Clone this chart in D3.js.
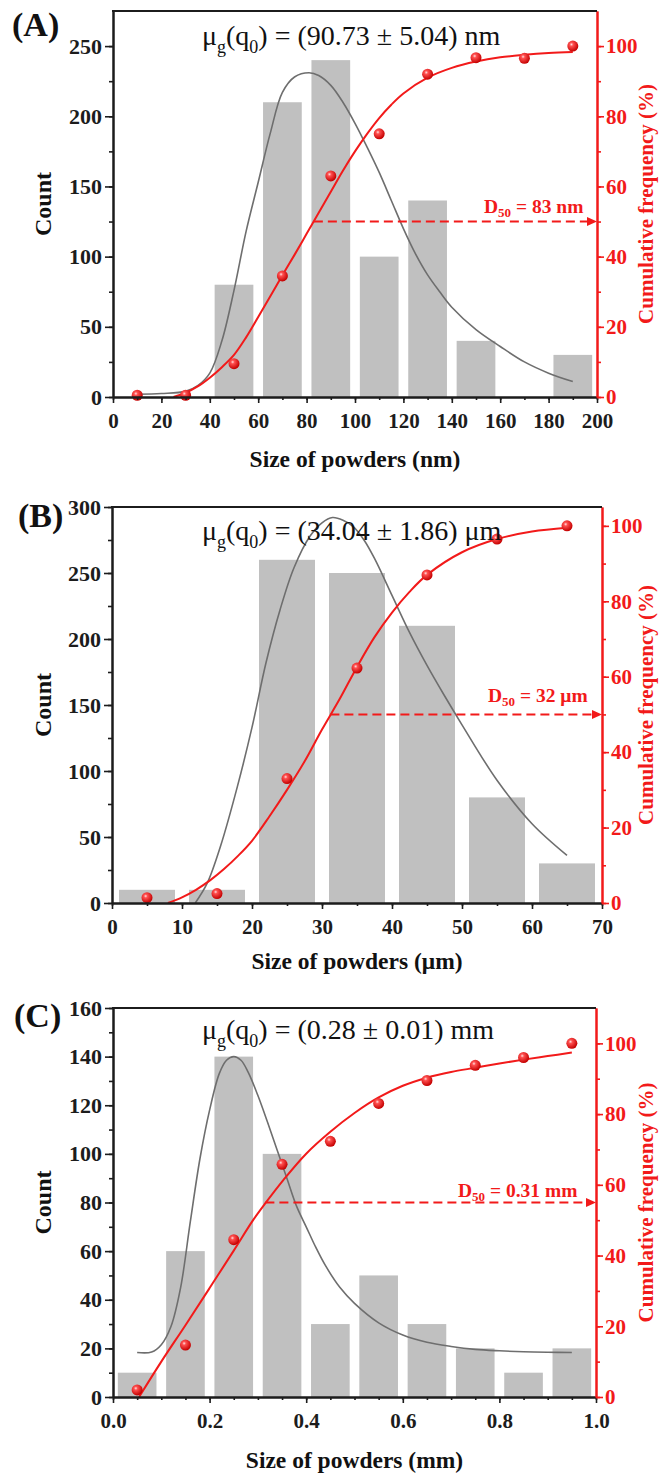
<!DOCTYPE html>
<html>
<head>
<meta charset="utf-8">
<script src="https://cdnjs.cloudflare.com/ajax/libs/d3/7.8.5/d3.min.js"></script>
<style>
body { margin: 0; background: #ffffff; }
text { font-family: "Liberation Serif", "Times New Roman", serif; }
</style>
</head>
<body>
<script>
// ---- panel (A): nanometre powder ----
var sizesA = [10, 30, 50, 70, 90, 110, 130, 150, 170, 190];
var countsA = [0, 0, 80, 210, 240, 100, 140, 40, 0, 30];
var cumA = [0.5, 0.5, 9.5, 34.5, 63, 75, 92, 96.7, 96.5, 100];
var fitXA = [10, 20, 30, 35, 40, 45, 50, 55, 60, 65, 70, 75, 81, 85, 90, 95, 100, 105, 110, 115, 120, 125, 130, 135, 140, 150, 160, 170, 180, 190];
var fitYA = [2, 2.5, 4, 8, 17, 40, 76, 118, 153, 188, 217, 228, 231, 229, 222, 210, 195, 178, 160, 140, 120, 102, 87, 75, 64, 48, 36, 25, 17, 11];
var cumFitXA = [25, 30, 35, 40, 45, 50, 55, 60, 65, 70, 75, 80, 85, 90, 95, 100, 105, 110, 115, 120, 130, 140, 150, 160, 170, 180, 190];
var cumFitYA = [0, 1.2, 3, 5.5, 8.5, 12, 17, 22.8, 28.7, 34.7, 40.5, 46.5, 52.5, 58.5, 64.5, 70, 75, 79.5, 83.3, 86.5, 91, 93.8, 95.6, 96.8, 97.5, 98, 98.3];
var xTicksA = [0, 20, 40, 60, 80, 100, 120, 140, 160, 180, 200];
var yTicksA = [0, 50, 100, 150, 200, 250];

// ---- panel (B): micrometre powder ----
var sizesB = [5, 15, 25, 35, 45, 55, 65];
var countsB = [10, 10, 260, 250, 210, 80, 30];
var cumB = [1.4, 2.5, 33, 62.3, 87, 96.5, 100];
var fitXB = [11.9, 13.6, 15.5, 17.9, 20, 22, 24, 26, 28.3, 30, 31.5, 33, 34.5, 36, 37.5, 40, 42.5, 45, 47.5, 50, 55, 60, 65];
var fitYB = [0, 15, 43, 88, 133, 182, 222, 254, 278, 288, 292, 290, 285, 275, 261, 233, 205, 180, 157, 135, 93, 60, 36];
var cumFitXB = [8, 10, 12, 14, 16, 18, 20, 22.5, 25, 27.5, 30, 32.5, 35, 37.5, 40, 42.5, 45, 50, 55, 60, 65];
var cumFitYB = [0, 1.5, 3.5, 6, 9, 12.5, 16.5, 23, 30, 37.5, 46, 54, 62.6, 70.5, 77, 82.5, 87, 93, 96.5, 98.5, 99.5];
var xTicksB = [0, 10, 20, 30, 40, 50, 60, 70];
var yTicksB = [0, 50, 100, 150, 200, 250, 300];

// ---- panel (C): millimetre powder ----
var sizesC = [0.05, 0.15, 0.25, 0.35, 0.45, 0.55, 0.65, 0.75, 0.85, 0.95];
var countsC = [10, 60, 140, 100, 30, 50, 30, 20, 10, 20];
var cumC = [2, 14.7, 44.5, 65.8, 72.3, 83, 89.5, 93.8, 96, 100];
var fitXC = [0.05, 0.08, 0.10, 0.12, 0.14, 0.16, 0.18, 0.20, 0.22, 0.235, 0.25, 0.265, 0.28, 0.30, 0.32, 0.34, 0.36, 0.38, 0.40, 0.42, 0.44, 0.47, 0.50, 0.55, 0.60, 0.65, 0.70, 0.75, 0.80, 0.85, 0.90, 0.95];
var fitYC = [18.3, 18.5, 21.5, 29, 45, 72, 98, 118, 133, 138.5, 140, 138.5, 133.5, 124, 113, 101.5, 90, 78.5, 70, 61.5, 54, 45, 38.5, 30.5, 25.5, 22.5, 20.8, 19.6, 19, 18.6, 18.4, 18.3];
var cumFitXC = [0.054, 0.10, 0.15, 0.20, 0.25, 0.29, 0.3155, 0.353, 0.40, 0.45, 0.50, 0.55, 0.60, 0.65, 0.70, 0.75, 0.80, 0.85, 0.90, 0.95];
var cumFitYC = [0, 10, 20.3, 30.8, 41.4, 50, 54.8, 61.4, 68.8, 75, 80.3, 84.7, 88, 90.3, 91.9, 93.1, 94.3, 95.4, 96.4, 97.4];
var xTicksC = [0, 0.2, 0.4, 0.6, 0.8, 1.0];
var yTicksC = [0, 20, 40, 60, 80, 100, 120, 140, 160];

var cumTicks = [0, 20, 40, 60, 80, 100];
var panelLabels = ["(A)", "(B)", "(C)"];
var meanTexts = ["(90.73 \u00b1 5.04) nm", "(34.04 \u00b1 1.86) \u03bcm", "(0.28 \u00b1 0.01) mm"];
var d50Texts = [" = 83 nm", " = 32 \u03bcm", " = 0.31 mm"];
var d50Size = [83, 31.2, 0.3155];
var d50Cum = [50, 50, 55];
var xTitles = ["Size of powders (nm)", "Size of powders (\u03bcm)", "Size of powders (mm)"];

var RED = "#f21a1a";
var AXIS = "#1c1c1c";

var panels = [
	{ sizes: sizesA, counts: countsA, cum: cumA, fitX: fitXA, fitY: fitYA, cumFitX: cumFitXA, cumFitY: cumFitYA,
	  xTicks: xTicksA, yTicks: yTicksA, bin: 20, xDomain: [0, 200], yDomain: [0, 275], y2Domain: [0, 110],
	  left: 113, right: 597, top: 11, bottom: 397, fmt: d3.format("d"),
	  meanX: 202, meanDy: 34, d50X: 484, d50Dy: -9, titleDy: 70, labelX: 12, labelY: 36 },
	{ sizes: sizesB, counts: countsB, cum: cumB, fitX: fitXB, fitY: fitYB, cumFitX: cumFitXB, cumFitY: cumFitYB,
	  xTicks: xTicksB, yTicks: yTicksB, bin: 10, xDomain: [0, 70], yDomain: [0, 300], y2Domain: [0, 105],
	  left: 112, right: 602, top: 507, bottom: 903, fmt: d3.format("d"),
	  meanX: 202, meanDy: 33, d50X: 488, d50Dy: -12, titleDy: 66, labelX: 18, labelY: 527 },
	{ sizes: sizesC, counts: countsC, cum: cumC, fitX: fitXC, fitY: fitYC, cumFitX: cumFitXC, cumFitY: cumFitYC,
	  xTicks: xTicksC, yTicks: yTicksC, bin: 0.1, xDomain: [0, 1], yDomain: [0, 160], y2Domain: [0, 110],
	  left: 113, right: 596, top: 1008, bottom: 1397, fmt: d3.format(".1f"),
	  meanX: 202, meanDy: 31, d50X: 458, d50Dy: -6, titleDy: 71, labelX: 14, labelY: 1027 }
];

var svg = d3.select("body").append("svg")
	.attr("width", 672)
	.attr("height", 1477);

var defs = svg.append("defs");
var grad = defs.append("radialGradient").attr("id", "ball")
	.attr("cx", "38%").attr("cy", "35%").attr("r", "65%");
grad.append("stop").attr("offset", "0%").attr("stop-color", "#ffe0e0");
grad.append("stop").attr("offset", "25%").attr("stop-color", "#ff5050");
grad.append("stop").attr("offset", "100%").attr("stop-color", "#c40000");

for (var i = 0; i < panels.length; i++) {
	drawPanel(panels[i], i);
}

function minorTicks(domain, step) {
	var out = [];
	var n = Math.round((domain[1] - domain[0]) / step);
	for (var k = 0; k <= n; k++) {
		out.push(domain[0] + k * step);
	}
	return out;
}

function styleAxis(g, color) {
	g.select(".domain").attr("stroke", color).attr("stroke-width", 2);
	g.selectAll(".tick line").attr("stroke", color).attr("stroke-width", 1.6);
	g.selectAll(".tick text").attr("fill", color)
		.style("font-family", "'Liberation Serif', serif")
		.style("font-weight", "bold");
}

function drawPanel(p, idx) {
	var x = d3.scaleLinear().domain(p.xDomain).range([p.left, p.right]);
	var y = d3.scaleLinear().domain(p.yDomain).range([p.bottom, p.top]);
	var y2 = d3.scaleLinear().domain(p.y2Domain).range([p.bottom, p.top]);
	var g = svg.append("g").attr("class", "panel");

	// histogram bars
	var bars = p.sizes.map(function(s, k) {
		return { size: s, count: p.counts[k] };
	}).filter(function(d) { return d.count > 0; });
	g.selectAll(".bar").data(bars).enter().append("rect")
		.attr("class", "bar")
		.attr("x", function(d) { return x(d.size - p.bin * 0.4); })
		.attr("width", function(d) { return x(d.size + p.bin * 0.4) - x(d.size - p.bin * 0.4); })
		.attr("y", function(d) { return y(d.count); })
		.attr("height", function(d) { return y(0) - y(d.count); })
		.attr("fill", "#c0c0c0");

	// log-normal fit (count axis)
	var fit = p.fitX.map(function(v, k) { return [v, p.fitY[k]]; });
	g.append("path")
		.attr("d", d3.line()
			.x(function(d) { return x(d[0]); })
			.y(function(d) { return y(d[1]); })
			.curve(d3.curveCatmullRom)(fit))
		.attr("fill", "none")
		.attr("stroke", "#6e6e6e")
		.attr("stroke-width", 1.6);

	// cumulative fit (right axis)
	var cumFit = p.cumFitX.map(function(v, k) { return [v, p.cumFitY[k]]; });
	g.append("path")
		.attr("d", d3.line()
			.x(function(d) { return x(d[0]); })
			.y(function(d) { return y2(d[1]); })
			.curve(d3.curveCatmullRom)(cumFit))
		.attr("fill", "none")
		.attr("stroke", RED)
		.attr("stroke-width", 2);

	// D50 dashed arrow
	var dy = y2(d50Cum[idx]);
	g.append("line")
		.attr("x1", x(d50Size[idx])).attr("x2", p.right - 8)
		.attr("y1", dy).attr("y2", dy)
		.attr("stroke", RED)
		.attr("stroke-width", 2)
		.attr("stroke-dasharray", "9,5");
	g.append("path")
		.attr("d", "M" + (p.right - 10) + "," + (dy - 4.5) + "L" + p.right + "," + dy + "L" + (p.right - 10) + "," + (dy + 4.5) + "Z")
		.attr("fill", RED);

	var d50 = g.append("text")
		.attr("x", p.d50X).attr("y", dy + p.d50Dy)
		.attr("fill", RED)
		.attr("font-size", "19.5px")
		.attr("font-weight", "bold");
	d50.append("tspan").text("D");
	d50.append("tspan").attr("font-size", "13px").attr("dy", 4).text("50");
	d50.append("tspan").attr("dy", -4).text(d50Texts[idx]);

	// cumulative points
	var pts = p.sizes.map(function(s, k) { return { size: s, cum: p.cum[k] }; });
	g.selectAll(".pt").data(pts).enter().append("circle")
		.attr("class", "pt")
		.attr("cx", function(d) { return x(d.size); })
		.attr("cy", function(d) { return y2(d.cum); })
		.attr("r", 5.5)
		.attr("fill", "url(#ball)");

	// axes
	var ax = g.append("g").attr("transform", "translate(0," + p.bottom + ")")
		.call(d3.axisBottom(x).tickValues(minorTicks(p.xDomain, p.bin / 2)).tickSize(3).tickFormat("").tickSizeOuter(0));
	styleAxis(ax, AXIS);
	var axMaj = g.append("g").attr("transform", "translate(0," + p.bottom + ")")
		.call(d3.axisBottom(x).tickValues(p.xTicks).tickFormat(p.fmt).tickSize(6).tickPadding(10).tickSizeOuter(0));
	styleAxis(axMaj, AXIS);
	axMaj.selectAll(".tick text").attr("font-size", "21px");

	var yStep = p.yTicks[1] - p.yTicks[0];
	var ayMin = g.append("g").attr("transform", "translate(" + p.left + ",0)")
		.call(d3.axisLeft(y).tickValues(minorTicks([0, p.yTicks[p.yTicks.length - 1]], yStep / 2)).tickSize(4).tickFormat("").tickSizeOuter(0));
	styleAxis(ayMin, AXIS);
	var ay = g.append("g").attr("transform", "translate(" + p.left + ",0)")
		.call(d3.axisLeft(y).tickValues(p.yTicks).tickSize(8).tickPadding(3).tickSizeOuter(0));
	styleAxis(ay, AXIS);
	ay.selectAll(".tick text").attr("font-size", "22px");

	var ar2Min = g.append("g").attr("transform", "translate(" + p.right + ",0)")
		.call(d3.axisRight(y2).tickValues(minorTicks([0, 100], 10)).tickSize(4).tickFormat("").tickSizeOuter(0));
	styleAxis(ar2Min, RED);
	var ar2 = g.append("g").attr("transform", "translate(" + p.right + ",0)")
		.call(d3.axisRight(y2).tickValues(cumTicks).tickSize(7).tickPadding(2).tickSizeOuter(0));
	styleAxis(ar2, RED);
	ar2.selectAll(".tick text").attr("font-size", "21px");

	// top frame line
	g.append("line")
		.attr("x1", p.left - 1).attr("x2", p.right)
		.attr("y1", p.top).attr("y2", p.top)
		.attr("stroke", AXIS).attr("stroke-width", 2);

	// geometric mean annotation
	var mean = g.append("text")
		.attr("x", p.meanX).attr("y", p.top + p.meanDy)
		.attr("font-size", "28px")
		.attr("fill", "#111");
	mean.append("tspan").text("\u03bc");
	mean.append("tspan").attr("font-size", "18px").attr("dy", 8).text("g");
	mean.append("tspan").attr("dy", -8).text("(q");
	mean.append("tspan").attr("font-size", "18px").attr("dy", 8).text("0");
	mean.append("tspan").attr("dy", -8).text(") = " + meanTexts[idx]);

	// titles
	var midX = (p.left + p.right) / 2;
	var midY = (p.top + p.bottom) / 2;
	g.append("text")
		.attr("x", midX).attr("y", p.bottom + p.titleDy)
		.attr("text-anchor", "middle")
		.attr("font-size", "23.5px").attr("font-weight", "bold")
		.attr("fill", "#111")
		.text(xTitles[idx]);
	g.append("text")
		.attr("transform", "translate(51," + midY + ") rotate(-90)")
		.attr("text-anchor", "middle")
		.attr("font-size", "24px").attr("font-weight", "bold")
		.attr("fill", "#111")
		.text("Count");
	g.append("text")
		.attr("transform", "translate(653," + midY + ") rotate(-90)")
		.attr("text-anchor", "middle")
		.attr("font-size", "21px").attr("font-weight", "bold")
		.attr("fill", RED)
		.text("Cumulative frequency (%)");
	g.append("text")
		.attr("x", p.labelX).attr("y", p.labelY)
		.attr("font-size", "34px").attr("font-weight", "bold")
		.attr("fill", "#111")
		.text(panelLabels[idx]);
}
</script>
</body>
</html>
